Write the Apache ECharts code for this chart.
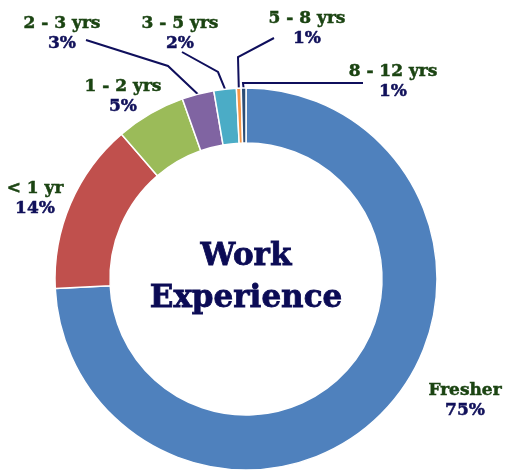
<!DOCTYPE html>
<html>
<head>
<meta charset="utf-8">
<script src="https://cdn.jsdelivr.net/npm/echarts@6/dist/echarts.min.js"></script>
<style>
  html, body { margin: 0; padding: 0; background: #fff; }
  #main { width: 505px; height: 474px; }
</style>
</head>
<body>
<div id="main"></div>
<script>
// 数据
var categories = ['Fresher', '< 1 yr', '1 - 2 yrs', '2 - 3 yrs', '3 - 5 yrs', '5 - 8 yrs', '8 - 12 yrs'];
var values = [74.2, 14.5, 5.9, 2.7, 1.9, 0.4, 0.4];
var pctLabels = ['75%', '14%', '5%', '3%', '2%', '1%', '1%'];
var colors = ['#4F81BD', '#C0504D', '#9BBB59', '#8064A2', '#4BACC6', '#F79646', '#2C4D75'];

// 标签位置 (label centre) and leader elbows
var labelPos = [[465, 401], [35, 199], [123, 97], [62, 34], [180, 34], [307, 29], [393, 82]];
var lineEnds = [null, null, null, [[168, 66], [86, 40]], [[218, 72], [182, 52]], [[238, 57], [274, 38]], [[243, 83], [363, 83]]];

var myChart = echarts.init(document.getElementById('main'));

var seriesData = categories.map(function (name, i) {
    return {
        name: name,
        value: values[i],
        itemStyle: {color: colors[i]},
        labelLine: {show: lineEnds[i] != null}
    };
});

var option = {
    animation: false,
    graphic: [{
        type: 'text',
        x: 246,
        y: 278,
        style: {
            text: 'Work\nExperience',
            font: 'bold 31px "DejaVu Serif"',
            fill: '#0B0B55',
            stroke: '#0B0B55',
            lineWidth: 0.8,
            align: 'center',
            verticalAlign: 'middle',
            lineHeight: 42
        }
    }],
    series: [
        {
            name: 'Work Experience',
            type: 'pie',
            center: [246, 279],
            radius: [136, 191],
            startAngle: 90,
            clockwise: true,
            avoidLabelOverlap: false,
            itemStyle: {borderColor: '#fff', borderWidth: 1.5},
            label: {
                show: true,
                position: 'outside',
                formatter: function (p) {
                    return '{n|' + p.name + '}\n{p|' + pctLabels[p.dataIndex] + '}';
                },
                rich: {
                    n: {fontFamily: 'DejaVu Serif', fontWeight: 'bold', fontSize: 17, color: '#1B4412',
                        textBorderColor: '#1B4412', textBorderWidth: 0.5, lineHeight: 20, align: 'center'},
                    p: {fontFamily: 'DejaVu Serif', fontWeight: 'bold', fontSize: 17, color: '#10105A',
                        textBorderColor: '#10105A', textBorderWidth: 0.5, lineHeight: 20, align: 'center'}
                }
            },
            labelLine: {
                lineStyle: {color: '#0F0F5C', width: 2}
            },
            labelLayout: function (params) {
                var i = params.dataIndex;
                var out = {
                    x: labelPos[i][0],
                    y: labelPos[i][1],
                    align: 'center',
                    verticalAlign: 'middle'
                };
                if (lineEnds[i] && params.labelLinePoints) {
                    out.labelLinePoints = [params.labelLinePoints[0], lineEnds[i][0], lineEnds[i][1]];
                }
                return out;
            },
            data: seriesData
        }
    ]
};

myChart.setOption(option);
</script>
</body>
</html>
